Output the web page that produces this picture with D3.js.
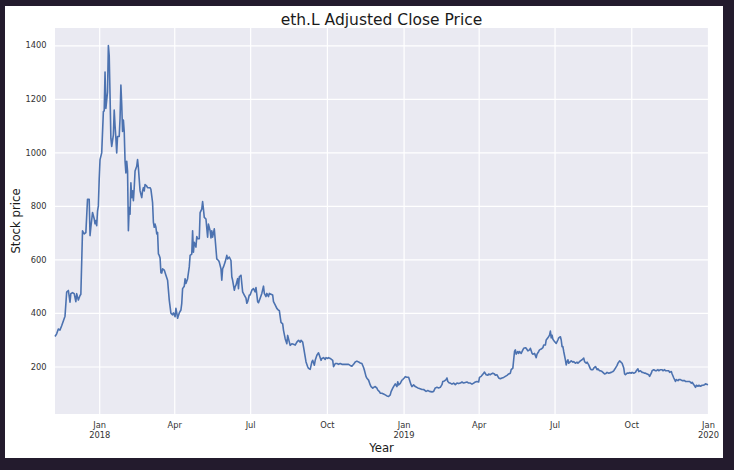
<!DOCTYPE html>
<html>
<head>
<meta charset="utf-8">
<script src="https://cdn.jsdelivr.net/npm/d3@7/dist/d3.min.js"></script>
<style>
  body { margin: 0; background: #231b2d; }
  svg { display: block; }
</style>
</head>
<body>
<div id="chart"></div>
<script>
// close price readings, [date, price], one array per quarter
var q4_2017 = [
  ["2017-11-09",312],["2017-11-11",322],["2017-11-13",340],["2017-11-15",336],["2017-11-17",352],["2017-11-19",370],["2017-11-21",388],["2017-11-23",478],["2017-11-25",484],["2017-11-27",440],["2017-11-28",472],["2017-11-30",476],
  ["2017-12-02",472],["2017-12-04",442],["2017-12-05",472],["2017-12-07",448],["2017-12-09",465],["2017-12-10",470],["2017-12-12",707],["2017-12-14",695],["2017-12-16",700],["2017-12-18",825],["2017-12-20",825],["2017-12-21",689],["2017-12-22",720],["2017-12-24",775],["2017-12-26",752],["2017-12-27",733],["2017-12-28",745],["2017-12-29",726],["2017-12-30",780],["2017-12-31",800]
];
var q1_2018 = [
  ["2018-01-01",900],["2018-01-02",973],["2018-01-04",998],["2018-01-06",1152],["2018-01-07",1155],["2018-01-08",1300],["2018-01-09",1164],["2018-01-11",1226],["2018-01-12",1399],["2018-01-13",1362],["2018-01-14",1214],["2018-01-15",1053],["2018-01-16",1022],["2018-01-18",1065],["2018-01-19",1158],["2018-01-20",1100],["2018-01-21",1053],["2018-01-22",998],["2018-01-23",1059],["2018-01-25",1059],["2018-01-26",1127],["2018-01-27",1251],["2018-01-28",1180],["2018-01-29",1078],["2018-01-30",1121],["2018-01-31",1078],
  ["2018-02-01",967],["2018-02-02",923],["2018-02-03",967],["2018-02-04",930],["2018-02-05",707],["2018-02-06",794],["2018-02-07",769],["2018-02-08",886],["2018-02-09",831],["2018-02-10",856],["2018-02-11",819],["2018-02-12",868],["2018-02-13",930],["2018-02-15",948],["2018-02-16",973],["2018-02-17",942],["2018-02-18",899],["2018-02-19",856],["2018-02-21",831],["2018-02-22",856],["2018-02-23",868],["2018-02-24",856],["2018-02-25",880],["2018-02-27",874],["2018-02-28",868],
  ["2018-03-02",868],["2018-03-03",868],["2018-03-04",862],["2018-03-05",837],["2018-03-06",812],["2018-03-07",738],["2018-03-08",720],["2018-03-09",732],["2018-03-10",720],["2018-03-11",695],["2018-03-12",701],["2018-03-13",621],["2018-03-14",615],["2018-03-15",605],["2018-03-16",550],["2018-03-17",549],["2018-03-18",565],["2018-03-20",560],["2018-03-22",541],["2018-03-24",522],["2018-03-25",485],["2018-03-26",448],["2018-03-28",399],["2018-03-30",393],["2018-03-31",400]
];
var q2_2018 = [
  ["2018-04-02",386],["2018-04-03",417],["2018-04-04",400],["2018-04-05",380],["2018-04-07",400],["2018-04-09",411],["2018-04-10",436],["2018-04-11",491],["2018-04-13",500],["2018-04-14",528],["2018-04-15",510],["2018-04-17",528],["2018-04-19",572],["2018-04-20",615],["2018-04-22",620],["2018-04-23",707],["2018-04-24",627],["2018-04-25",664],["2018-04-27",646],["2018-04-28",685],["2018-04-29",677],
  ["2018-05-01",677],["2018-05-02",775],["2018-05-04",788],["2018-05-05",816],["2018-05-06",788],["2018-05-07",757],["2018-05-09",751],["2018-05-11",683],["2018-05-12",732],["2018-05-14",707],["2018-05-15",680],["2018-05-16",707],["2018-05-17",683],["2018-05-19",714],["2018-05-20",677],["2018-05-22",602],["2018-05-24",596],["2018-05-25",590],["2018-05-27",565],["2018-05-28",522],["2018-05-29",565],["2018-05-30",572],
  ["2018-06-01",590],["2018-06-03",615],["2018-06-04",602],["2018-06-06",609],["2018-06-08",596],["2018-06-09",535],["2018-06-10",522],["2018-06-12",485],["2018-06-13",498],["2018-06-14",504],["2018-06-16",528],["2018-06-17",491],["2018-06-18",535],["2018-06-20",541],["2018-06-21",510],["2018-06-22",479],["2018-06-24",467],["2018-06-26",455],["2018-06-27",436],["2018-06-28",442],["2018-06-30",467]
];
var q3_2018 = [
  ["2018-07-01",467],["2018-07-03",485],["2018-07-05",491],["2018-07-07",479],["2018-07-08",495],["2018-07-10",442],["2018-07-11",438],["2018-07-13",455],["2018-07-15",473],["2018-07-17",500],["2018-07-18",473],["2018-07-20",461],["2018-07-21",473],["2018-07-23",461],["2018-07-24",473],["2018-07-26",470],["2018-07-28",467],["2018-07-29",442],["2018-07-31",430],
  ["2018-08-02",417],["2018-08-04",410],["2018-08-05",409],["2018-08-06",386],["2018-08-07",365],["2018-08-09",359],["2018-08-10",335],["2018-08-12",304],["2018-08-14",285],["2018-08-15",316],["2018-08-17",291],["2018-08-18",279],["2018-08-20",285],["2018-08-22",283],["2018-08-24",280],["2018-08-26",291],["2018-08-28",298],["2018-08-30",291],["2018-08-31",298],
  ["2018-09-02",291],["2018-09-03",273],["2018-09-05",236],["2018-09-06",217],["2018-09-08",199],["2018-09-09",193],["2018-09-11",189],["2018-09-13",217],["2018-09-14",223],["2018-09-16",205],["2018-09-17",223],["2018-09-19",242],["2018-09-21",251],["2018-09-22",242],["2018-09-24",223],["2018-09-25",230],["2018-09-27",233],["2018-09-29",226],["2018-09-30",233]
];
var q4_2018 = [
  ["2018-10-02",230],["2018-10-03",233],["2018-10-05",230],["2018-10-08",223],["2018-10-09",199],["2018-10-11",211],["2018-10-13",211],["2018-10-15",208],["2018-10-17",211],["2018-10-19",208],["2018-10-21",208],["2018-10-23",208],["2018-10-25",208],["2018-10-27",208],["2018-10-29",204],["2018-10-31",201],
  ["2018-11-02",208],["2018-11-04",217],["2018-11-06",220],["2018-11-08",217],["2018-11-10",213],["2018-11-12",211],["2018-11-14",196],["2018-11-15",186],["2018-11-17",162],["2018-11-18",156],["2018-11-20",149],["2018-11-22",131],["2018-11-23",125],["2018-11-25",119],["2018-11-26",122],["2018-11-28",125],["2018-11-30",119],
  ["2018-12-01",112],["2018-12-03",106],["2018-12-04",100],["2018-12-06",100],["2018-12-08",97],["2018-12-10",94],["2018-12-12",90],["2018-12-14",88],["2018-12-16",94],["2018-12-17",106],["2018-12-19",119],["2018-12-20",125],["2018-12-22",135],["2018-12-24",125],["2018-12-25",143],["2018-12-26",131],["2018-12-28",137],["2018-12-30",149],["2018-12-31",151]
];
var q1_2019 = [
  ["2019-01-02",158],["2019-01-03",162],["2019-01-05",160],["2019-01-07",160],["2019-01-08",150],["2019-01-10",131],["2019-01-11",125],["2019-01-13",131],["2019-01-15",125],["2019-01-18",120],["2019-01-20",118],["2019-01-23",114],["2019-01-25",114],["2019-01-28",107],["2019-01-30",110],
  ["2019-02-01",107],["2019-02-04",105],["2019-02-06",107],["2019-02-08",120],["2019-02-10",122],["2019-02-12",120],["2019-02-14",122],["2019-02-16",132],["2019-02-17",144],["2019-02-19",146],["2019-02-21",151],["2019-02-22",157],["2019-02-23",144],["2019-02-25",138],["2019-02-26",138],["2019-02-28",134],
  ["2019-03-02",138],["2019-03-04",132],["2019-03-06",138],["2019-03-08",136],["2019-03-10",138],["2019-03-12",142],["2019-03-14",138],["2019-03-16",140],["2019-03-18",142],["2019-03-20",138],["2019-03-22",138],["2019-03-24",134],["2019-03-26",138],["2019-03-28",142],["2019-03-30",144]
];
var q2_2019 = [
  ["2019-04-01",142],["2019-04-02",159],["2019-04-04",163],["2019-04-05",167],["2019-04-07",175],["2019-04-08",179],["2019-04-10",169],["2019-04-12",167],["2019-04-13",172],["2019-04-15",169],["2019-04-16",172],["2019-04-18",175],["2019-04-20",172],["2019-04-21",167],["2019-04-23",169],["2019-04-25",157],["2019-04-27",154],["2019-04-29",157],
  ["2019-05-01",159],["2019-05-03",163],["2019-05-05",167],["2019-05-07",172],["2019-05-09",175],["2019-05-10",188],["2019-05-12",194],["2019-05-13",225],["2019-05-14",256],["2019-05-15",262],["2019-05-16",246],["2019-05-18",256],["2019-05-19",249],["2019-05-20",256],["2019-05-22",249],["2019-05-24",262],["2019-05-25",268],["2019-05-27",270],["2019-05-28",268],["2019-05-30",258],
  ["2019-06-01",262],["2019-06-02",268],["2019-06-04",249],["2019-06-05",246],["2019-06-07",249],["2019-06-09",233],["2019-06-10",246],["2019-06-12",256],["2019-06-13",262],["2019-06-15",265],["2019-06-17",270],["2019-06-18",280],["2019-06-20",280],["2019-06-21",299],["2019-06-23",307],["2019-06-25",317],["2019-06-26",332],["2019-06-27",307],["2019-06-28",317],["2019-06-29",302]
];
var q3_2019 = [
  ["2019-07-01",293],["2019-07-03",286],["2019-07-05",299],["2019-07-06",307],["2019-07-08",311],["2019-07-09",299],["2019-07-10",274],["2019-07-11",274],["2019-07-12",256],["2019-07-14",225],["2019-07-15",206],["2019-07-16",218],["2019-07-17",225],["2019-07-18",212],["2019-07-20",218],["2019-07-21",221],["2019-07-23",216],["2019-07-24",218],["2019-07-26",212],["2019-07-28",216],["2019-07-29",212],["2019-07-31",218],
  ["2019-08-01",221],["2019-08-03",225],["2019-08-05",231],["2019-08-06",218],["2019-08-08",212],["2019-08-09",216],["2019-08-11",206],["2019-08-13",191],["2019-08-14",188],["2019-08-16",188],["2019-08-17",194],["2019-08-19",200],["2019-08-21",188],["2019-08-22",191],["2019-08-24",184],["2019-08-25",184],["2019-08-27",181],["2019-08-29",175],["2019-08-30",172],
  ["2019-09-01",175],["2019-09-02",178],["2019-09-04",175],["2019-09-06",177],["2019-09-07",178],["2019-09-09",181],["2019-09-10",184],["2019-09-12",194],["2019-09-14",204],["2019-09-15",212],["2019-09-17",221],["2019-09-18",218],["2019-09-20",212],["2019-09-22",194],["2019-09-23",172],["2019-09-24",169],["2019-09-26",175],["2019-09-28",175],["2019-09-29",177]
];
var q4_2019 = [
  ["2019-10-01",175],["2019-10-02",178],["2019-10-04",175],["2019-10-06",178],["2019-10-07",184],["2019-10-09",191],["2019-10-10",181],["2019-10-12",184],["2019-10-14",178],["2019-10-15",178],["2019-10-17",175],["2019-10-18",175],["2019-10-20",172],["2019-10-22",169],["2019-10-23",163],["2019-10-25",175],["2019-10-26",184],["2019-10-28",188],["2019-10-30",184],["2019-10-31",184],
  ["2019-11-02",188],["2019-11-03",184],["2019-11-05",188],["2019-11-07",188],["2019-11-08",184],["2019-11-10",188],["2019-11-11",184],["2019-11-13",184],["2019-11-15",184],["2019-11-16",178],["2019-11-18",181],["2019-11-19",172],["2019-11-21",157],["2019-11-23",144],["2019-11-24",151],["2019-11-26",147],["2019-11-27",151],["2019-11-29",151],
  ["2019-12-01",147],["2019-12-02",147],["2019-12-04",147],["2019-12-05",144],["2019-12-07",144],["2019-12-09",144],["2019-12-10",144],["2019-12-12",138],["2019-12-13",141],["2019-12-15",132],["2019-12-17",122],["2019-12-18",130],["2019-12-20",126],["2019-12-21",130],["2019-12-23",126],["2019-12-25",130],["2019-12-26",130],["2019-12-28",132],["2019-12-29",135],["2020-01-01",132]
];

var yTicks = [200, 400, 600, 800, 1000, 1200, 1400];
var xTicks = ["2018-01-01","2018-04-01","2018-07-01","2018-10-01","2019-01-01","2019-04-01","2019-07-01","2019-10-01","2020-01-01"];
var xTickLabels = [["Jan","2018"],["Apr"],["Jul"],["Oct"],["Jan","2019"],["Apr"],["Jul"],["Oct"],["Jan","2020"]];

var parse = d3.timeParse("%Y-%m-%d");
var data = [].concat(q4_2017, q1_2018, q2_2018, q3_2018, q4_2018, q1_2019, q2_2019, q3_2019, q4_2019)
  .map(function(d) { return { date: parse(d[0]), close: d[1] } });

var W = 734, H = 470;
var m = { left: 55, top: 28, right: 708, bottom: 414 };
var font = "DejaVu Sans, sans-serif";

var svg = d3.select("#chart").append("svg").attr("width", W).attr("height", H);
svg.append("rect").attr("width", W).attr("height", H).attr("fill", "#231b2d");
svg.append("rect").attr("x", 5).attr("y", 6).attr("width", 718).attr("height", 452).attr("fill", "#ffffff");
svg.append("rect").attr("x", m.left).attr("y", m.top).attr("width", m.right - m.left).attr("height", m.bottom - m.top).attr("fill", "#eaeaf2");

var ext = d3.extent(data, function(d) { return d.close });
var pad = (ext[1] - ext[0]) * 0.05;
var yScale = d3.scaleLinear().domain([ext[0] - pad, ext[1] + pad]).range([m.bottom, m.top]);
var xScale = d3.scaleTime().domain(d3.extent(data, function(d) { return d.date })).range([m.left, m.right]);

var tickDates = xTicks.map(parse);

// white grid
var xGrid = d3.axisBottom(xScale).tickValues(tickDates).tickSize(-(m.bottom - m.top)).tickFormat("");
var yGrid = d3.axisLeft(yScale).tickValues(yTicks).tickSize(-(m.right - m.left)).tickFormat("");
svg.append("g").attr("transform", "translate(0," + m.bottom + ")").call(xGrid)
  .call(function(g) { g.select(".domain").remove(); g.selectAll("line").attr("stroke", "#ffffff").attr("stroke-width", 1.2) });
svg.append("g").attr("transform", "translate(" + m.left + ",0)").call(yGrid)
  .call(function(g) { g.select(".domain").remove(); g.selectAll("line").attr("stroke", "#ffffff").attr("stroke-width", 1.2) });

// y tick labels
var yAxis = d3.axisLeft(yScale).tickValues(yTicks).tickFormat(d3.format("d")).tickSize(0).tickPadding(8.5);
svg.append("g").attr("transform", "translate(" + m.left + ",0)").call(yAxis)
  .call(function(g) { g.select(".domain").remove() })
  .selectAll("text").style("font", "8.3px " + font).attr("fill", "#333333");

// x tick labels, two lines for the year starts
var xAxis = d3.axisBottom(xScale).tickValues(tickDates).tickSize(0).tickFormat("");
var xg = svg.append("g").attr("transform", "translate(0," + m.bottom + ")").call(xAxis);
xg.select(".domain").remove();
xg.selectAll(".tick").each(function(d, i) {
  var t = d3.select(this).append("text").attr("fill", "#333333").attr("text-anchor", "middle").style("font", "8.3px " + font);
  xTickLabels[i].forEach(function(s, j) {
    t.append("tspan").attr("x", 0).attr("y", 14 + j * 9.8).text(s);
  });
});

svg.append("path")
  .datum(data)
  .attr("fill", "none")
  .attr("stroke", "#4c72b0")
  .attr("stroke-width", 1.6)
  .attr("stroke-linejoin", "round")
  .attr("d", d3.line()
    .x(function(d) { return xScale(d.date) })
    .y(function(d) { return yScale(d.close) }));

svg.append("text").attr("x", (m.left + m.right) / 2).attr("y", 24.5).attr("text-anchor", "middle")
  .style("font", "15.5px " + font).attr("fill", "#1a1a1a").text("eth.L Adjusted Close Price");
svg.append("text").attr("x", (m.left + m.right) / 2).attr("y", 451.5).attr("text-anchor", "middle")
  .style("font", "11.7px " + font).attr("fill", "#1a1a1a").text("Year");
svg.append("text").attr("transform", "translate(19.5," + (m.top + m.bottom) / 2 + ") rotate(-90)").attr("text-anchor", "middle")
  .style("font", "11.7px " + font).attr("fill", "#1a1a1a").text("Stock price");
</script>
</body>
</html>
